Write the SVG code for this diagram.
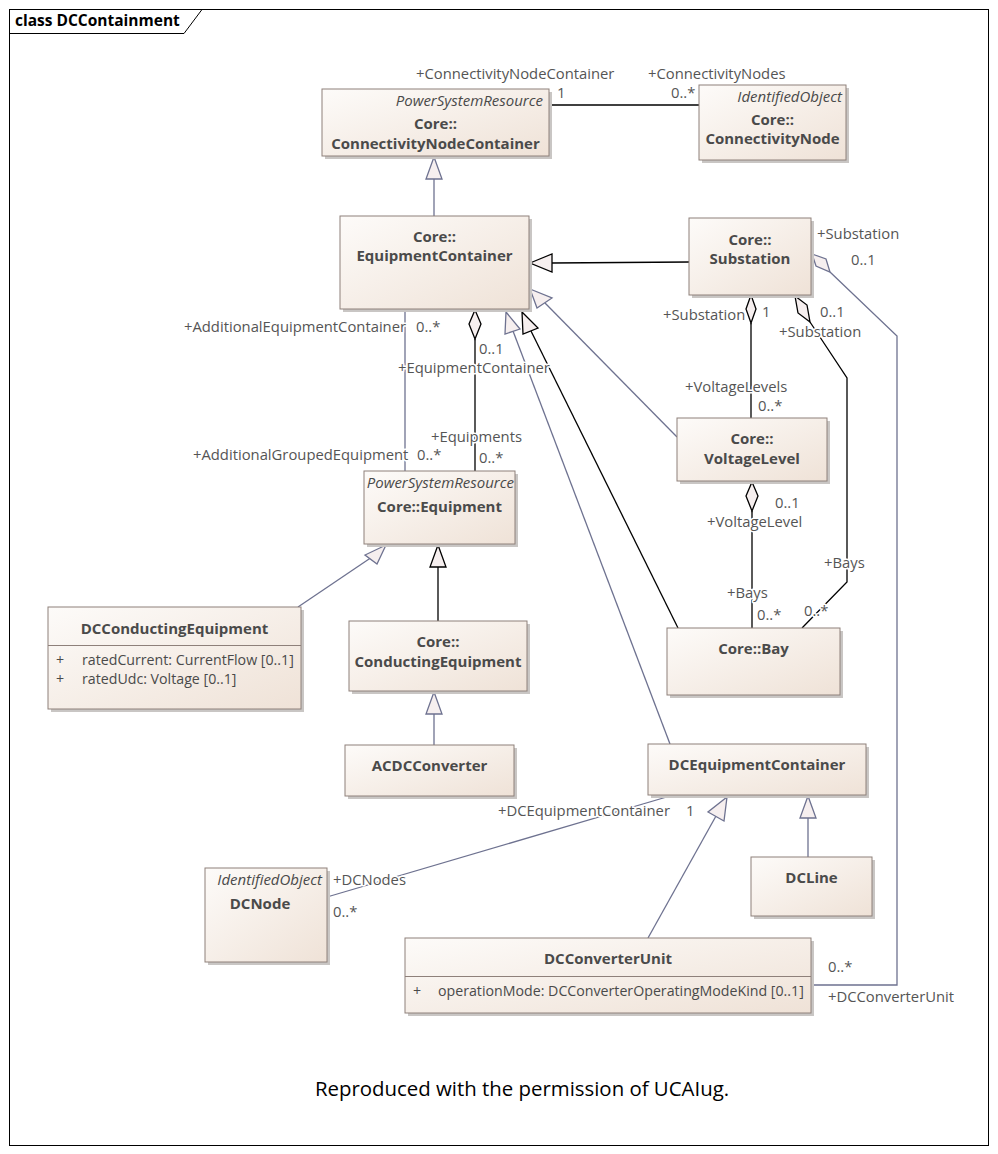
<svg xmlns="http://www.w3.org/2000/svg" width="998" height="1154" viewBox="0 0 998 1154">
<defs>
<linearGradient id="boxg" x1="0" y1="0" x2="1" y2="1">
<stop offset="0" stop-color="#fdfbf9"/>
<stop offset="1" stop-color="#efe2d7"/>
</linearGradient>
<style>
.box{fill:url(#boxg);stroke:#8e807a;stroke-width:1}
.shadow{fill:#c9c6c4}
.sep{stroke:#8e807a;stroke-width:1}
.name{font-family:"Open Sans","DejaVu Sans",sans-serif;font-size:15px;font-weight:bold;fill:#4a4a4a;text-anchor:middle}
.stereo{font-family:"Open Sans","DejaVu Sans",sans-serif;font-size:15px;font-style:italic;fill:#4a4a4a;text-anchor:end}
.attr{font-family:"Open Sans","DejaVu Sans",sans-serif;font-size:14.2px;fill:#4a4a4a}
.lbl{font-family:"Open Sans","DejaVu Sans",sans-serif;font-size:14.8px;fill:#555555;stroke:#ffffff;stroke-width:3px;paint-order:stroke;stroke-linejoin:round}
.blk{stroke:#000000;stroke-width:1.3;fill:none}
.gry{stroke:#6e7290;stroke-width:1.3;fill:none}
.triB{fill:#f6efef;stroke:#000000;stroke-width:1.3}
.triG{fill:#f6efef;stroke:#6e7290;stroke-width:1.3}
</style>
</defs>
<rect x="0" y="0" width="998" height="1154" fill="#ffffff"/>
<g id="frame">
<rect x="9.5" y="9.5" width="979" height="1136" fill="none" stroke="#000" stroke-width="1"/>
<path d="M9.5 33.5 H184 L202 9.5" fill="none" stroke="#000" stroke-width="1"/>
<text x="15" y="26" font-family="'Open Sans','DejaVu Sans',sans-serif" font-size="15.5" font-weight="bold" fill="#000">class DCContainment</text>
</g>

<g id="connectors">
<line class="gry" x1="434" y1="216" x2="434" y2="179"/>
<polygon class="triG" points="434,157 426,179 442,179"/>
<line class="blk" x1="549" y1="105" x2="699" y2="105"/>
<line class="blk" x1="689" y1="262" x2="552" y2="263"/>
<polygon class="triB" points="530,263 552,254 552,272"/>
<line class="blk" x1="751" y1="323" x2="751" y2="418"/>
<polygon class="triB" points="751,295 756,309 751,323 746,309"/>
<polyline class="blk" points="810,322 847,378 847,582 802,628"/>
<polygon class="triB" points="795,296 807,305 810,322 798,313"/>
<polyline class="gry" points="811,985 897,985 897,336 830,272"/>
<polygon class="triG" points="812,254 826,259 830,272 816,266"/>
<line class="blk" x1="475" y1="339" x2="475" y2="471"/>
<polygon class="triB" points="475,310 481,324 475,339 469,324"/>
<line class="gry" x1="405" y1="309" x2="405" y2="471"/>
<line class="gry" x1="677" y1="437" x2="545" y2="303"/>
<polygon class="triG" points="530,289 552,298 537,308"/>
<line class="blk" x1="678" y1="628" x2="531" y2="331"/>
<polygon class="triB" points="522,312 538,328 523,334"/>
<line class="gry" x1="670" y1="744" x2="513" y2="331"/>
<polygon class="triG" points="506,312 520,329 505,334"/>
<line class="blk" x1="752" y1="511" x2="752" y2="628"/>
<polygon class="triB" points="752,482 758,496 752,511 746,496"/>
<line class="gry" x1="298" y1="607" x2="372" y2="557"/>
<polygon class="triG" points="386,545 377,564 365,555"/>
<line class="blk" x1="438" y1="621" x2="438" y2="567"/>
<polygon class="triB" points="438,545 430,567 446,567"/>
<line class="gry" x1="434" y1="745" x2="434" y2="714"/>
<polygon class="triG" points="434,692 426,714 442,714"/>
<line class="gry" x1="648" y1="938" x2="716" y2="816"/>
<polygon class="triG" points="727,797 724,821 708,812"/>
<line class="gry" x1="808" y1="857" x2="808" y2="818"/>
<polygon class="triG" points="808,796 800,818 816,818"/>
<line class="gry" x1="327" y1="897" x2="670" y2="796"/>
</g>

<g id="labels">
<text class="lbl" x="416" y="79">+ConnectivityNodeContainer</text>
<text class="lbl" x="557" y="98">1</text>
<text class="lbl" x="648" y="79">+ConnectivityNodes</text>
<text class="lbl" x="671" y="98">0..*</text>
<text class="lbl" x="817" y="239">+Substation</text>
<text class="lbl" x="851" y="265">0..1</text>
<text class="lbl" x="184" y="332">+AdditionalEquipmentContainer</text>
<text class="lbl" x="416" y="332">0..*</text>
<text class="lbl" x="479" y="354">0..1</text>
<text class="lbl" x="398" y="373">+EquipmentContainer</text>
<text class="lbl" x="663" y="320">+Substation</text>
<text class="lbl" x="762" y="317">1</text>
<text class="lbl" x="820" y="317">0..1</text>
<text class="lbl" x="779" y="337">+Substation</text>
<text class="lbl" x="685" y="392">+VoltageLevels</text>
<text class="lbl" x="758" y="411">0..*</text>
<text class="lbl" x="431" y="442">+Equipments</text>
<text class="lbl" x="193" y="460">+AdditionalGroupedEquipment</text>
<text class="lbl" x="417" y="460">0..*</text>
<text class="lbl" x="479" y="463">0..*</text>
<text class="lbl" x="775" y="508">0..1</text>
<text class="lbl" x="707" y="527">+VoltageLevel</text>
<text class="lbl" x="824" y="568">+Bays</text>
<text class="lbl" x="727" y="598">+Bays</text>
<text class="lbl" x="757" y="620">0..*</text>
<text class="lbl" x="804" y="616">0..*</text>
<text class="lbl" x="498" y="816">+DCEquipmentContainer</text>
<text class="lbl" x="686" y="816">1</text>
<text class="lbl" x="333" y="885">+DCNodes</text>
<text class="lbl" x="333" y="917">0..*</text>
<text class="lbl" x="828" y="972">0..*</text>
<text class="lbl" x="828" y="1002">+DCConverterUnit</text>
</g>

<g id="ConnectivityNodeContainer">
<rect class="shadow" x="325" y="92" width="227" height="67"/>
<rect class="box" x="322" y="89" width="227" height="67"/>
<text class="stereo" x="543" y="106">PowerSystemResource</text>
<text class="name" x="435.5" y="129">Core::</text>
<text class="name" x="435.5" y="149">ConnectivityNodeContainer</text>
</g>
<g id="ConnectivityNode">
<rect class="shadow" x="702" y="88" width="147" height="75"/>
<rect class="box" x="699" y="85" width="147" height="75"/>
<text class="stereo" x="842" y="102">IdentifiedObject</text>
<text class="name" x="772.5" y="125">Core::</text>
<text class="name" x="772.5" y="144">ConnectivityNode</text>
</g>
<g id="EquipmentContainer">
<rect class="shadow" x="343" y="219" width="189" height="93"/>
<rect class="box" x="340" y="216" width="189" height="93"/>
<text class="name" x="434.5" y="242">Core::</text>
<text class="name" x="434.5" y="261">EquipmentContainer</text>
</g>
<g id="Substation">
<rect class="shadow" x="692" y="221" width="122" height="77"/>
<rect class="box" x="689" y="218" width="122" height="77"/>
<text class="name" x="750" y="245">Core::</text>
<text class="name" x="750" y="264">Substation</text>
</g>
<g id="VoltageLevel">
<rect class="shadow" x="680" y="421" width="150" height="63"/>
<rect class="box" x="677" y="418" width="150" height="63"/>
<text class="name" x="752" y="444">Core::</text>
<text class="name" x="752" y="464">VoltageLevel</text>
</g>
<g id="Equipment">
<rect class="shadow" x="367" y="474" width="151" height="73"/>
<rect class="box" x="364" y="471" width="151" height="73"/>
<text class="stereo" x="514" y="488">PowerSystemResource</text>
<text class="name" x="439.5" y="512">Core::Equipment</text>
</g>
<g id="DCConductingEquipment">
<rect class="shadow" x="51" y="610" width="253" height="102"/>
<rect class="box" x="48" y="607" width="253" height="102"/>
<line class="sep" x1="48" y1="645.5" x2="301" y2="645.5"/>
<text class="name" x="174.5" y="634">DCConductingEquipment</text>
<text class="attr" x="56" y="665">+</text>
<text class="attr" x="82" y="665">ratedCurrent: CurrentFlow [0..1]</text>
<text class="attr" x="56" y="684">+</text>
<text class="attr" x="82" y="684">ratedUdc: Voltage [0..1]</text>
</g>
<g id="ConductingEquipment">
<rect class="shadow" x="352" y="624" width="178" height="70"/>
<rect class="box" x="349" y="621" width="178" height="70"/>
<text class="name" x="438" y="647">Core::</text>
<text class="name" x="438" y="667">ConductingEquipment</text>
</g>
<g id="Bay">
<rect class="shadow" x="670" y="631" width="173" height="67"/>
<rect class="box" x="667" y="628" width="173" height="67"/>
<text class="name" x="753.5" y="654">Core::Bay</text>
</g>
<g id="ACDCConverter">
<rect class="shadow" x="348" y="748" width="169" height="51"/>
<rect class="box" x="345" y="745" width="169" height="51"/>
<text class="name" x="429.5" y="771">ACDCConverter</text>
</g>
<g id="DCEquipmentContainer">
<rect class="shadow" x="651" y="747" width="218" height="51"/>
<rect class="box" x="648" y="744" width="218" height="51"/>
<text class="name" x="757" y="770">DCEquipmentContainer</text>
</g>
<g id="DCLine">
<rect class="shadow" x="754" y="860" width="121" height="59"/>
<rect class="box" x="751" y="857" width="121" height="59"/>
<text class="name" x="811.5" y="883">DCLine</text>
</g>
<g id="DCNode">
<rect class="shadow" x="208" y="871" width="122" height="94"/>
<rect class="box" x="205" y="868" width="122" height="94"/>
<text class="stereo" x="322" y="885">IdentifiedObject</text>
<text class="name" x="260" y="909">DCNode</text>
</g>
<g id="DCConverterUnit">
<rect class="shadow" x="408" y="941" width="406" height="75"/>
<rect class="box" x="405" y="938" width="406" height="75"/>
<line class="sep" x1="405" y1="976.5" x2="811" y2="976.5"/>
<text class="name" x="608" y="964">DCConverterUnit</text>
<text class="attr" x="413" y="996">+</text>
<text class="attr" x="438" y="996">operationMode: DCConverterOperatingModeKind [0..1]</text>
</g>

<g id="note">
<text x="522" y="1096" text-anchor="middle" font-family="'Open Sans','DejaVu Sans',sans-serif" font-size="20.4" fill="#000">Reproduced with the permission of UCAIug.</text>
</g>
</svg>
